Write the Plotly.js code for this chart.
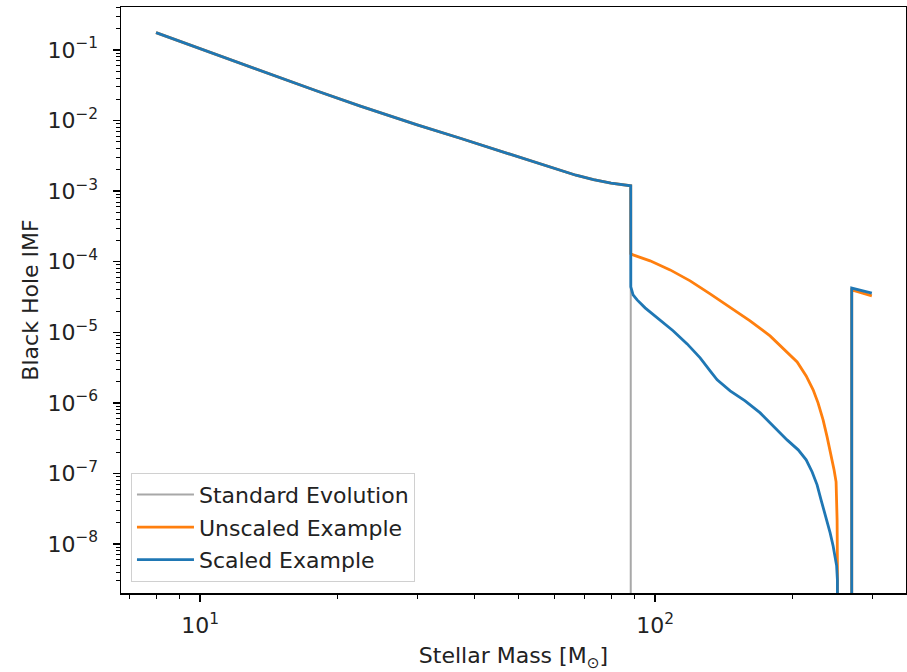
<!DOCTYPE html>
<html>
<head>
<meta charset="utf-8">
<script src="https://cdn.plot.ly/plotly-3.0.1.min.js"></script>
<style>html,body{margin:0;padding:0;background:#fff;}#chart{width:907px;height:672px;}</style>
</head>
<body>
<div id="chart"></div>
<script>
// Shared low-mass power-law part (identical for all three curves)
const mainMass = [8, 10, 12, 14.3, 18, 22.5, 24.9, 30, 37.3, 44, 52.3, 61.8, 67, 73.2, 80, 88.4];
const mainImf  = [0.176, 0.104, 0.0678, 0.0443, 0.0264, 0.0160, 0.0128, 0.00867, 0.00561, 0.00398, 0.00285, 0.00197, 0.00168, 0.00146, 0.0013, 0.00119];

// Standard evolution: drops to (effectively) zero above the cut
const stdTailMass = [88.4];
const stdTailImf  = [1e-12];

// Unscaled example tail
const unscaledTailMass = [88.4, 89.45, 97.5, 107.9, 119.4, 132.1, 146.2, 161.7, 178.9, 193.1, 205.2, 214.8, 222.5, 228.1, 234.0, 238.8, 243.7, 247.4, 249.9, 251.2, 251.6, 251.8, 270.5, 270.5, 299.5];
const unscaledTailImf  = [1.3e-4, 1.25e-4, 1.03e-4, 7.66e-5, 5.35e-5, 3.50e-5, 2.22e-5, 1.45e-5, 8.89e-6, 5.63e-6, 3.81e-6, 2.41e-6, 1.53e-6, 1.0e-6, 5.74e-7, 3.30e-7, 1.83e-7, 1.12e-7, 7.6e-8, 2.2e-8, 4.9e-9, 1e-12, 1e-12, 3.99e-5, 3.28e-5];

// Scaled example tail
const scaledTailMass = [88.43, 89.45, 91.3, 95.06, 102.6, 109.5, 117.6, 125.6, 132.1, 136.9, 146.2, 157.7, 170.2, 183.5, 195.0, 206.3, 214.8, 221.4, 227.0, 231.6, 237.6, 242.5, 246.2, 248.7, 250.6, 251.6, 251.8, 270.5, 270.5, 299.5];
const scaledTailImf  = [4.40e-5, 3.39e-5, 2.88e-5, 2.22e-5, 1.50e-5, 1.05e-5, 6.85e-6, 4.34e-6, 2.84e-6, 2.12e-6, 1.48e-6, 1.07e-6, 7.21e-7, 4.42e-7, 2.99e-7, 2.16e-7, 1.56e-7, 1.05e-7, 6.90e-8, 4.23e-8, 2.35e-8, 1.44e-8, 9.4e-9, 6.4e-9, 4.9e-9, 3.1e-9, 1e-12, 1e-12, 4.22e-5, 3.58e-5];

const seriesNames = ["Standard Evolution", "Unscaled Example", "Scaled Example"];
const xTickVals = [10, 100];
const xTickText = ["10<sup>1</sup>", "10<sup>2</sup>"];
const yTickVals = [1e-1, 1e-2, 1e-3, 1e-4, 1e-5, 1e-6, 1e-7, 1e-8];
const yTickText = ["10<sup>−1</sup>", "10<sup>−2</sup>", "10<sup>−3</sup>", "10<sup>−4</sup>", "10<sup>−5</sup>", "10<sup>−6</sup>", "10<sup>−7</sup>", "10<sup>−8</sup>"];

const xMinor = [7, 8, 9, 20, 30, 40, 50, 60, 70, 80, 90, 200, 300];
const yMinor = [];
for (let e = -9; e <= -1; e++) for (let m = 2; m <= 9; m++) yMinor.push(m * Math.pow(10, e));

const FONT = "DejaVu Sans, sans-serif";
const FS = 22;
const traces = [
  {x: mainMass.concat(stdTailMass), y: mainImf.concat(stdTailImf), name: seriesNames[0], legendgroup: "a",
   mode: "lines", line: {color: "rgba(110,110,110,0.6)", width: 2}},
  {x: mainMass.concat(unscaledTailMass), y: mainImf.concat(unscaledTailImf), name: seriesNames[1], legendgroup: "b",
   mode: "lines", line: {color: "#ff7f0e", width: 2.8}},
  {x: mainMass.concat(scaledTailMass), y: mainImf.concat(scaledTailImf), name: seriesNames[2], legendgroup: "c",
   mode: "lines", line: {color: "#1f77b4", width: 2.8}}
];

const layout = {
  width: 907, height: 672,
  margin: {l: 121, r: 1, t: 7, b: 79, pad: 0},
  paper_bgcolor: "#fff", plot_bgcolor: "#fff",
  font: {family: FONT, size: FS, color: "#222"},
  showlegend: true,
  legend: {x: 0.0127, y: 0.0193, xanchor: "left", yanchor: "bottom",
    bgcolor: "rgba(255,255,255,0.8)", bordercolor: "#d0d0d0", borderwidth: 1,
    itemwidth: 57,
    font: {family: FONT, size: FS, color: "#222"}, traceorder: "grouped", tracegroupgap: 1},
  xaxis: {type: "log", range: [Math.log10(6.70), Math.log10(356)],
    tickmode: "array", tickvals: xTickVals, ticktext: xTickText,
    ticks: "outside", ticklen: 7, tickwidth: 1.3, tickcolor: "#000",
    showline: true, linecolor: "#000", linewidth: 1.5, mirror: true,
    showgrid: false, zeroline: false, ticklabelstandoff: 5,
    minor: {tickmode: "array", tickvals: xMinor, ticks: "outside", ticklen: 4, tickwidth: 1, tickcolor: "#000", showgrid: false},
    tickfont: {family: FONT, size: FS, color: "#222"},
    title: {text: "Stellar Mass [M<sub>⊙</sub>]", font: {family: FONT, size: FS, color: "#222"}, standoff: 21}},
  yaxis: {type: "log", range: [-8.694, -0.391],
    tickmode: "array", tickvals: yTickVals, ticktext: yTickText,
    ticks: "outside", ticklen: 7, tickwidth: 1.3, tickcolor: "#000",
    showline: true, linecolor: "#000", linewidth: 1.5, mirror: true,
    showgrid: false, zeroline: false, ticklabelstandoff: 10,
    minor: {tickmode: "array", tickvals: yMinor, ticks: "outside", ticklen: 4, tickwidth: 1, tickcolor: "#000", showgrid: false},
    tickfont: {family: FONT, size: FS, color: "#222"},
    title: {text: "Black Hole IMF", font: {family: FONT, size: FS, color: "#222"}, standoff: 2}}
};

Plotly.newPlot("chart", traces, layout, {displayModeBar: false, staticPlot: true});
</script>
</body>
</html>
